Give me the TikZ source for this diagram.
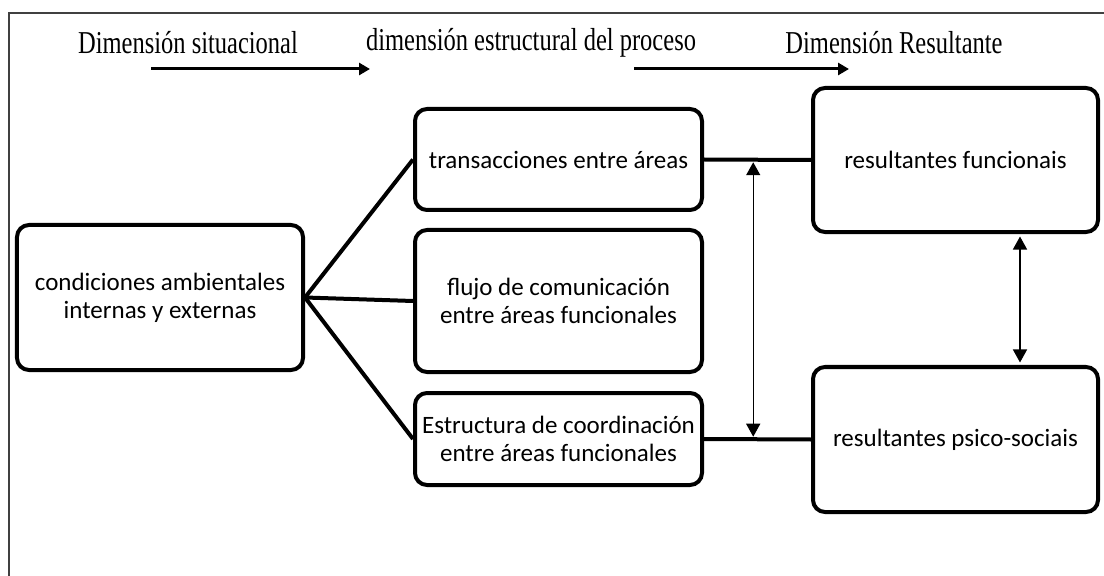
\documentclass[tikz,border=0pt]{standalone}
\usepackage{fontspec}
\setmainfont{Liberation Serif}
\newfontfamily\bodyfont{Carlito}
\usetikzlibrary{arrows.meta,calc}
\tikzset{
  box/.style={draw, line width=4bp, rounded corners=12bp, inner sep=0pt, align=center,
              font=\bodyfont\fontsize{25bp}{28bp}\selectfont},
  conn/.style={line width=4bp},
  thinarr/.style={line width=1.4bp, {Triangle[length=13bp,width=14bp]}-{Triangle[length=13bp,width=14bp]}, shorten <=2.5bp, shorten >=2.5bp},
  toparr/.style={line width=3bp, -{Triangle[length=11bp,width=12bp]}},
  head/.style={inner sep=0pt, font=\fontsize{24.5bp}{28bp}\selectfont},
}
\begin{document}
\begin{tikzpicture}[x=1bp,y=-1bp]
\useasboundingbox (0,0) rectangle (1104,576);
\draw[black!75, line width=2bp] (9,576) -- (9,13) -- (1104,13);

\node[head] (h1) at (188,43) {\scalebox{1}[1.3]{Dimensión situacional}};
\node[head] (h2) at (531,43) {\scalebox{1}[1.3]{dimensión estructural del proceso}};
\node[head] (h3) at (894,43) {\scalebox{1}[1.3]{Dimensión Resultante}};
\coordinate (a1s) at (151,69);
\coordinate (a1e) at (370,69);
\coordinate (a2s) at (634,69);
\coordinate (a2e) at (849,69);
\draw[toparr] (a1s) -- (a1e);
\draw[toparr] (a2s) -- (a2e);

\node[box, minimum width=286bp, minimum height=145bp] (L) at (160,297.5) {condiciones ambientales\\internas y externas};
\node[box, minimum width=287bp, minimum height=101bp] (T) at (558.5,159.5) {transacciones entre áreas};
\node[box, minimum width=287bp, minimum height=142bp] (F) at (558.5,301) {flujo de comunicación\\entre áreas funcionales};
\node[box, minimum width=287bp, minimum height=92bp] (E) at (558.5,439) {Estructura de coordinación\\entre áreas funcionales};
\node[box, minimum width=285bp, minimum height=144bp] (RF) at (955.5,160) {resultantes funcionais};
\node[box, minimum width=285bp, minimum height=145bp] (RP) at (955.5,439.5) {resultantes psico-sociais};

\draw[conn] (L.east) -- (T.west);
\draw[conn] (L.east) -- (F.west);
\draw[conn] (L.east) -- (E.west);
\draw[conn] (T.east) -- (RF.west);
\draw[conn] (E.east) -- (RP.west);

\coordinate (va) at ($(T.east)!0.46!(RF.west)$);
\coordinate (vb) at ($(E.east)!0.46!(RP.west)$);
\draw[thinarr] (va) -- (vb);
\draw[thinarr] ($(RF.south)+(64.5,0)$) -- ($(RP.north)+(64.5,0)$);
\end{tikzpicture}
\end{document}
